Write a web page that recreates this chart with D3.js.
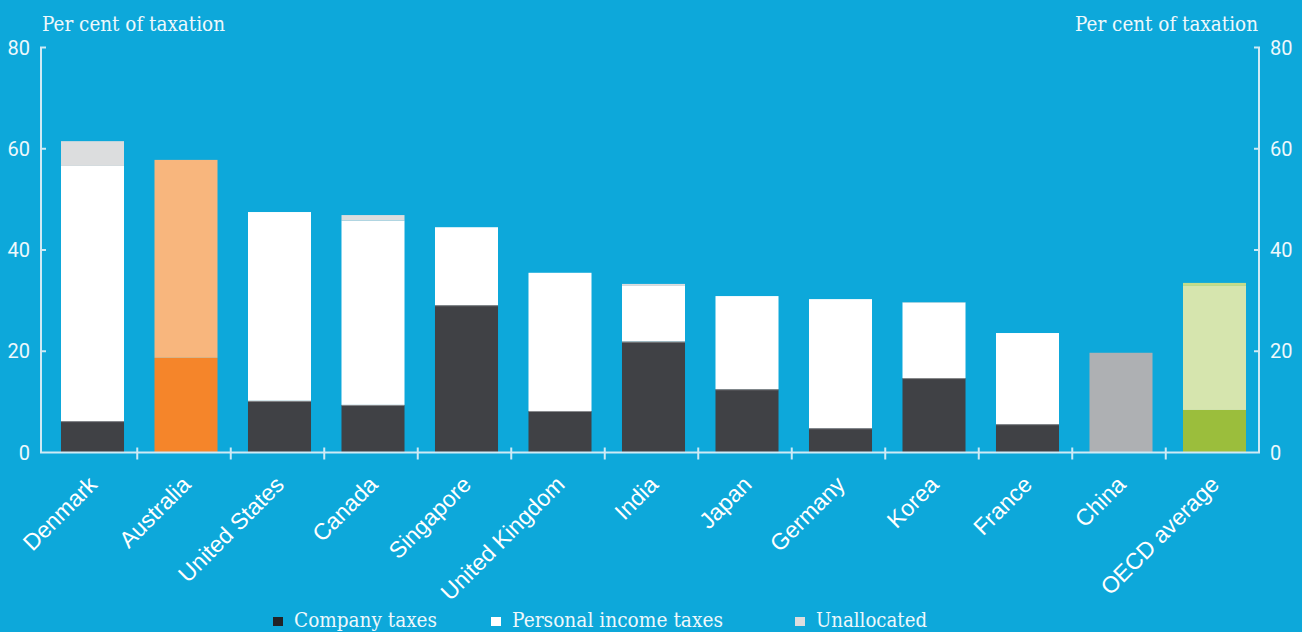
<!DOCTYPE html>
<html>
<head>
<meta charset="utf-8">
<script src="https://cdn.jsdelivr.net/npm/d3@7"></script>
<style>
  body { margin: 0; background: #0da8da; }
  svg { display: block; }
</style>
</head>
<body>
<div id="chart"></div>
<script>
// values (per cent of taxation)
const categories = ["Denmark", "Australia", "United States", "Canada", "Singapore", "United Kingdom",
    "India", "Japan", "Germany", "Korea", "France", "China", "OECD average"];
const companyTaxes = [6.2, 18.7, 10.2, 9.4, 29.1, 8.2, 21.9, 12.5, 4.8, 14.7, 5.6, 0, 8.4];
const personalTaxes = [50.4, 39.1, 37.3, 36.4, 15.4, 27.3, 11.0, 18.4, 25.5, 14.9, 18.0, 0, 24.5];
const unallocated = [4.9, 0, 0, 1.1, 0, 0, 0.4, 0, 0, 0.1, 0, 19.7, 0.6];
const yTicks = [0, 20, 40, 60, 80];
const legendLabels = ["Company taxes", "Personal income taxes", "Unallocated"];

function drawChart() {
    const width = 1302, height = 632;
    const bg = "#0da8da", axisColor = "#cfeaf5", textColor = "#eef8fc";
    const slab = "'Roboto Slab', 'DejaVu Serif', serif";

    const palette = {
        default: ["#404145", "#ffffff", "#dcddde"],
        "Australia": ["#f5852a", "#f8b67d", "#f8b67d"],
        "China": ["#aeb0b3", "#aeb0b3", "#aeb0b3"],
        "OECD average": ["#9bbe3c", "#d6e5ae", "#c4dc8a"]
    };

    const svg = d3.select("#chart").append("svg").attr("width", width).attr("height", height);
    svg.append("rect").attr("width", width).attr("height", height).attr("fill", bg);

    const x = d3.scaleBand().domain(categories).range([45.75, 1261.25]).paddingInner(0.326).paddingOuter(0.163);
    const y = d3.scaleLinear().domain([0, 80]).range([452.5, 47.5]);
    const left = 41, right = 1259;

    // stacked bars
    const rows = categories.map((c, i) => ({ name: c, vals: [companyTaxes[i], personalTaxes[i], unallocated[i]] }));
    const bars = svg.append("g").selectAll("g").data(rows).join("g");
    bars.each(function(d) {
        const g = d3.select(this);
        const cols = palette[d.name] || palette.default;
        let base = 0;
        d.vals.forEach((v, k) => {
            if (v <= 0) return;
            g.append("rect")
                .attr("x", x(d.name)).attr("width", x.bandwidth())
                .attr("y", y(base + v)).attr("height", y(base) - y(base + v))
                .attr("fill", cols[k]);
            base += v;
        });
        if (!palette[d.name] && d.vals[0] > 0 && d.vals[1] > 0) {
            g.append("line")
                .attr("x1", x(d.name)).attr("x2", x(d.name) + x.bandwidth())
                .attr("y1", y(d.vals[0]) + 0.5).attr("y2", y(d.vals[0]) + 0.5)
                .attr("stroke", "#8a8b8e").attr("stroke-width", 1);
        }
    });

    // axes
    const axes = svg.append("g").attr("stroke", axisColor).attr("stroke-width", 2).attr("fill", "none");
    axes.append("path").attr("d", `M${left + 5},${y(80)}H${left}V${y(0)}H${right}V${y(80)}H${right - 5}`);
    yTicks.filter(t => t > 0 && t < 80).forEach(t => {
        axes.append("line").attr("x1", left).attr("x2", left + 5).attr("y1", y(t)).attr("y2", y(t));
        axes.append("line").attr("x1", right - 5).attr("x2", right).attr("y1", y(t)).attr("y2", y(t));
    });
    const step = x.step();
    categories.slice(0, -1).forEach(c => {
        const tx = x(c) + x.bandwidth() + step * x.paddingInner() / 2 - 2;
        axes.append("line").attr("x1", tx).attr("x2", tx).attr("y1", y(0) - 5).attr("y2", y(0) + 7);
    });

    // tick labels
    const tickFont = "Roboto, sans-serif";
    svg.append("g").selectAll("text").data(yTicks).join("text")
        .attr("x", 30).attr("y", d => y(d) + 7).attr("text-anchor", "end")
        .attr("font-family", tickFont).attr("font-size", 20).attr("fill", textColor).text(d => d);
    svg.append("g").selectAll("text").data(yTicks).join("text")
        .attr("x", 1270).attr("y", d => y(d) + 7).attr("text-anchor", "start")
        .attr("font-family", tickFont).attr("font-size", 20).attr("fill", textColor).text(d => d);

    // axis titles
    [42, 1075].forEach(tx => {
        svg.append("text").attr("x", tx).attr("y", 31).attr("font-family", slab).attr("font-size", 20.5)
            .attr("textLength", 183).attr("lengthAdjust", "spacingAndGlyphs")
            .attr("fill", textColor).text("Per cent of taxation");
    });

    // category labels
    svg.append("g").selectAll("text").data(categories).join("text")
        .attr("transform", d => `translate(${x(d) + x.bandwidth() / 2 + 6},${486}) rotate(-45)`)
        .attr("text-anchor", "end")
        .attr("font-family", "'Liberation Sans', Arial, sans-serif").attr("font-size", 23)
        .attr("fill", "#ffffff").text(d => d);

    // legend
    const legendX = [273, 491, 795];
    const legendW = [143, 211, 111];
    const legendCols = palette.default.map(c => c === "#404145" ? "#222326" : c);
    const legend = svg.append("g").selectAll("g").data(legendLabels).join("g")
        .attr("transform", (d, i) => `translate(${legendX[i]},0)`);
    legend.append("rect").attr("x", 0).attr("y", 617).attr("width", 10).attr("height", 9)
        .attr("fill", (d, i) => legendCols[i]);
    legend.append("text").attr("x", 21).attr("y", 627).attr("font-family", slab).attr("font-size", 20)
        .attr("textLength", (d, i) => legendW[i]).attr("lengthAdjust", "spacingAndGlyphs")
        .attr("fill", textColor).text(d => d);
}

document.addEventListener("DOMContentLoaded", () => {
    drawChart();
});
</script>
</body>
</html>
